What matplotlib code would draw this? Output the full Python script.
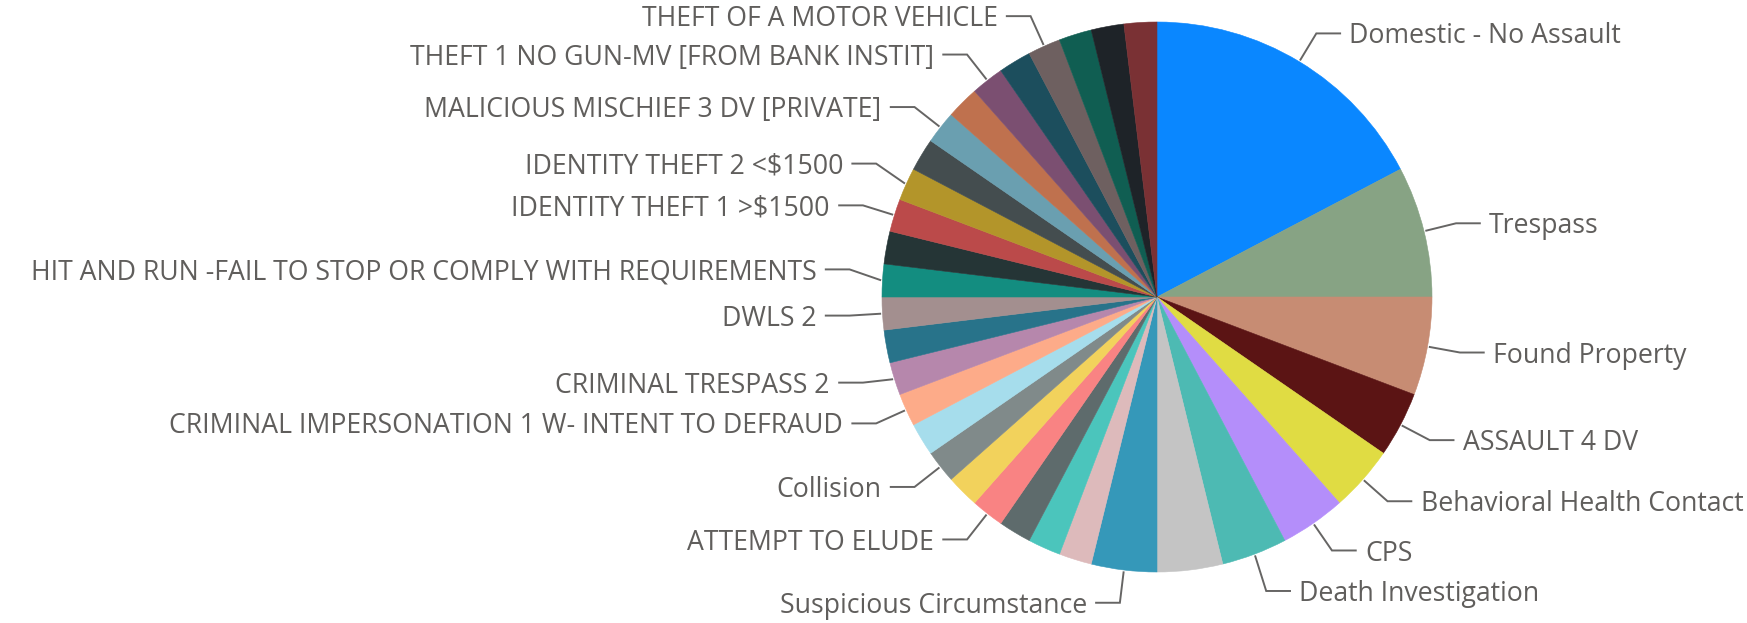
import numpy as np
import matplotlib
matplotlib.use("Agg")
import matplotlib.pyplot as plt

# ---- data (counts per incident type, clockwise from 12 o'clock) ----
categories = [
    "Domestic - No Assault", "Trespass", "Found Property", "ASSAULT 4 DV",
    "Behavioral Health Contact", "CPS", "Death Investigation", "",
    "Suspicious Circumstance", "", "", "", "ATTEMPT TO ELUDE", "", "Collision", "",
    "CRIMINAL IMPERSONATION 1 W- INTENT TO DEFRAUD", "CRIMINAL TRESPASS 2", "",
    "DWLS 2", "HIT AND RUN -FAIL TO STOP OR COMPLY WITH REQUIREMENTS", "",
    "IDENTITY THEFT 1 >$1500", "IDENTITY THEFT 2 <$1500", "",
    "MALICIOUS MISCHIEF 3 DV [PRIVATE]", "", "THEFT 1 NO GUN-MV [FROM BANK INSTIT]", "",
    "THEFT OF A MOTOR VEHICLE", "", "", "",
]
counts = [9, 4, 3, 2, 2, 2, 2, 2, 2] + [1] * 24
colors = [
    "#0A87FF", "#87A384", "#C78C73", "#5B1414", "#E0DC43", "#B48EFA", "#4DBAB3",
    "#C4C4C4", "#3598B9", "#DDBABB", "#4BC5BC", "#5E6B6C", "#F98383", "#F2D25C",
    "#808A8A", "#A6DDEC", "#FDAB89", "#B687AC", "#28738A", "#A38F8F", "#138D80",
    "#253536", "#BB4A4A", "#B3952A", "#444D4F", "#6A9FB0", "#BF714E", "#7B4F71",
    "#1C4E5D", "#6E6060", "#105E52", "#1E2328", "#7A3134",
]

# label layout nudges (pixels, + = down) where labels were spread apart
label_nudge = {
    "Death Investigation": 6,
    "CRIMINAL TRESPASS 2": -6,
    "HIT AND RUN -FAIL TO STOP OR COMPLY WITH REQUIREMENTS": -9,
    "IDENTITY THEFT 2 <$1500": -7,
}

TEXT_C = "#605E5C"
LINE_C = "#666564"

W, H, DPI = 1747, 623, 100
CX, CY, R = 1157, 297, 275   # pie centre and radius in pixels

fig = plt.figure(figsize=(W / DPI, H / DPI), dpi=DPI)
ax = fig.add_axes([0, 0, 1, 1])

wedges, _ = ax.pie(counts, colors=colors, startangle=90, counterclock=False,
                   radius=1.0, wedgeprops=dict(linewidth=0.4))
for w, col in zip(wedges, colors):
    w.set_edgecolor(col)   # hide antialias seams

ax.set_xlim(-CX / R, (W - CX) / R)
ax.set_ylim(-(H - CY) / R, CY / R)
ax.set_aspect("auto")
ax.axis("off")

# ---- labels with elbow leader lines ----
r_start, r_elbow, seg, gap = 1.005, 1.12, 0.09, 0.03
for w, name in zip(wedges, categories):
    if not name:
        continue
    th = np.deg2rad((w.theta1 + w.theta2) / 2)
    c, s = np.cos(th), np.sin(th)
    x0, y0 = r_start * c, r_start * s
    x1, y1 = r_elbow * c, r_elbow * s - label_nudge.get(name, 0) / R
    side = 1 if c >= 0 else -1
    x2 = x1 + side * seg
    ax.plot([x0, x1, x2], [y0, y1, y1], color=LINE_C, lw=1.4,
            solid_capstyle="butt", solid_joinstyle="miter", clip_on=False)
    ax.annotate(name, (x2 + side * gap, y1), xytext=(0, -2.2),
                textcoords="offset points",
                ha="left" if side > 0 else "right", va="center",
                fontsize=19.2, color=TEXT_C, family=["Open Sans", "DejaVu Sans"])

fig.savefig("out.png", dpi=DPI, facecolor="white")
